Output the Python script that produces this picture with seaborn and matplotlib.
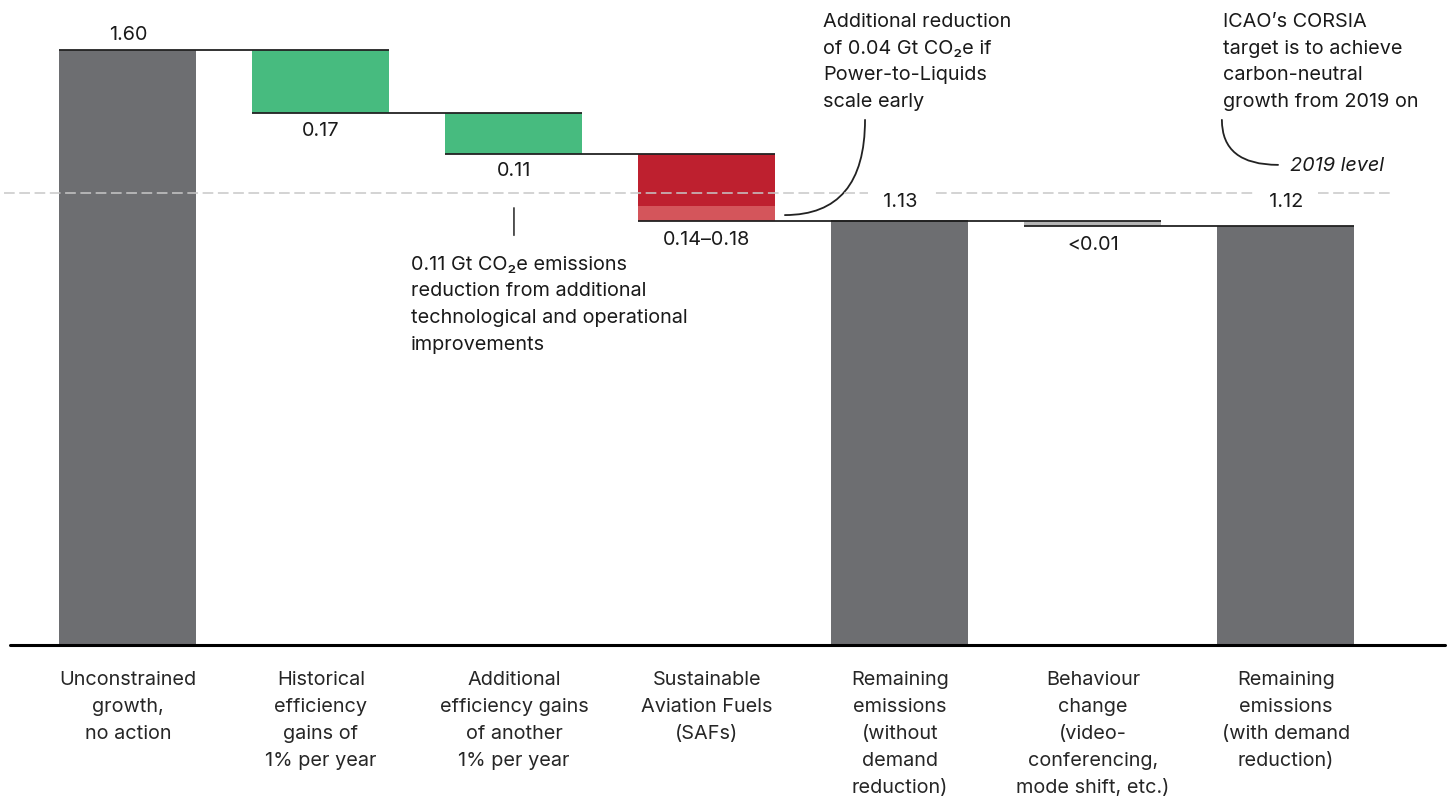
import pandas as pd
import matplotlib.pyplot as plt
import seaborn as sns

# Chart data (Gt CO2e)
categories = [
    "Unconstrained\ngrowth,\nno action",
    "Historical\nefficiency\ngains of\n1% per year",
    "Additional\nefficiency gains\nof another\n1% per year",
    "Sustainable\nAviation Fuels\n(SAFs)",
    "Remaining\nemissions\n(without\ndemand\nreduction)",
    "Behaviour\nchange\n(video-\nconferencing,\nmode shift, etc.)",
    "Remaining\nemissions\n(with demand\nreduction)",
]
start_value = 1.60
hist_gain = 0.17
extra_gain = 0.11
saf_core = 0.14
saf_ptl = 0.04
behaviour = 0.013
remaining = [1.14, 1.127]
level_2019 = 1.215
value_labels = ["1.60", "0.17", "0.11", "0.14\u20130.18", "1.13", "<0.01", "1.12"]

GRAY = "#6d6e71"
GREEN = "#47bb7f"
RED = "#be202f"
LIGHT_RED = "#d4555b"
LIGHT_GRAY = "#b5b5b5"
W = 0.71
FS = 14.3
LS = 1.63

sns.set_style("white")
plt.rcParams["font.family"] = ["Inter", "DejaVu Sans"]
plt.rcParams["text.color"] = "#1a1a1a"

fig = plt.figure(figsize=(14.5, 7.98), dpi=100)
ax = fig.add_axes([0, 153 / 798, 1, 645 / 798])

totals = pd.DataFrame({
    "category": [categories[0], categories[4], categories[6]],
    "value": [start_value, remaining[0], remaining[1]],
})
sns.barplot(data=totals, x="category", y="value", order=categories,
            color=GRAY, saturation=1, width=W, ax=ax, zorder=5,
            linewidth=0)

# floating bars
l1 = start_value - hist_gain
l2 = l1 - extra_gain
l3 = l2 - saf_core - saf_ptl
kw = dict(width=W, linewidth=0, zorder=5)
ax.bar(1, hist_gain, bottom=l1, color=GREEN, **kw)
ax.bar(2, extra_gain, bottom=l2, color=GREEN, **kw)
ax.bar(3, saf_core, bottom=l2 - saf_core, color=RED, **kw)
ax.bar(3, saf_ptl, bottom=l3, color=LIGHT_RED, **kw)
ax.bar(5, behaviour, bottom=remaining[0] - behaviour, color=LIGHT_GRAY, **kw)

# connectors
ends = [start_value, l1, l2, l3, remaining[0], remaining[1]]
for i, lv in enumerate(ends):
    ax.hlines(lv, i - W / 2, i + 1 + W / 2, color="#222222", lw=1.3, zorder=7)

# 2019 level dashed line
ax.axhline(level_2019, xmin=0.003, xmax=0.961, color="#c8c8c8", lw=1.1,
           dashes=(7, 3), zorder=6)

# baseline
ax.axhline(0, xmin=0.007, xmax=0.9966, color="black", lw=2.2, clip_on=False,
           zorder=8)

# value labels
label_pos = [(start_value, 4, "bottom"), (l1, -6, "top"), (l2, -6, "top"),
             (l3, -7, "top"), (remaining[0], 7, "bottom"),
             (remaining[1], -7, "top"), (remaining[1], 11, "bottom")]
for i, (txt, (lv, off, va)) in enumerate(zip(value_labels, label_pos)):
    bbox = None
    if i in (4, 6):
        txt = "  " + txt + "  "
        bbox = dict(boxstyle="square,pad=0.2", fc="white", ec="none")
    ax.annotate(txt, (i, lv), xytext=(0, off), textcoords="offset points",
                ha="center", va=va, fontsize=FS, bbox=bbox, zorder=6.5)

# annotations
ax.text(1.466, 1.047,
        "0.11 Gt CO\u2082e emissions\nreduction from additional\n"
        "technological and operational\nimprovements",
        ha="left", va="top", fontsize=FS, linespacing=LS)
ax.annotate("", xy=(2, 1.183), xytext=(2, 1.094),
            arrowprops=dict(arrowstyle="-", color="#222222", lw=1.1))

ax.text(3.601, 1.70,
        "Additional reduction\nof 0.04 Gt CO\u2082e if\nPower-to-Liquids\nscale early",
        ha="left", va="top", fontsize=FS, linespacing=LS)
ax.annotate("", xy=(3.819, 1.412), xytext=(3.404, 1.156),
            arrowprops=dict(arrowstyle="-", color="#222222", lw=1.3,
                            shrinkA=0, shrinkB=0,
                            connectionstyle="angle3,angleA=0,angleB=90"))

ax.text(5.674, 1.70,
        "ICAO\u2019s CORSIA\ntarget is to achieve\ncarbon-neutral\ngrowth from 2019 on",
        ha="left", va="top", fontsize=FS, linespacing=LS)
ax.annotate("", xy=(5.668, 1.412), xytext=(5.959, 1.291),
            arrowprops=dict(arrowstyle="-", color="#222222", lw=1.3,
                            shrinkA=0, shrinkB=0,
                            connectionstyle="angle3,angleA=0,angleB=90"))
ax.text(6.508, 1.289, "2019 level", ha="right", va="center",
        fontsize=FS, style="italic")

ax.set_xlim(-0.663, -0.663 + 1450 / 193)
ax.set_ylim(0, 645 / 371.9)
ax.set_xlabel("")
ax.set_ylabel("")
ax.set_yticks([])
ax.tick_params(axis="x", length=0, pad=19, labelsize=FS)
for lab in ax.get_xticklabels():
    lab.set_linespacing(LS)
sns.despine(ax=ax, left=True, bottom=True)

fig.savefig("out.png", dpi=100)
